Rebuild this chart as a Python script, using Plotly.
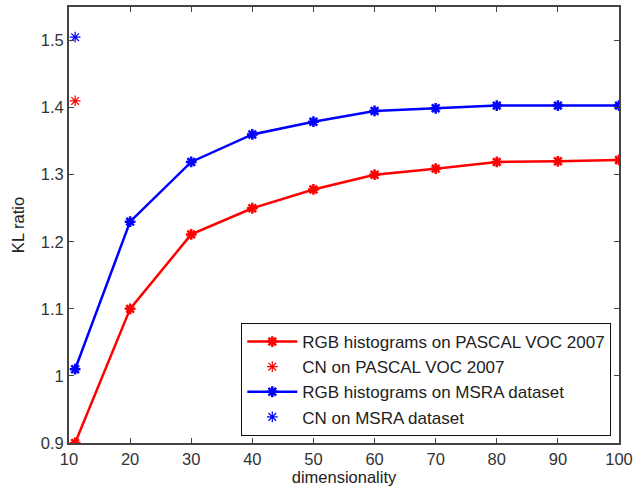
import plotly.graph_objects as go

# dimensionality sampled for the RGB histogram curves
dims = [11, 20, 30, 40, 50, 60, 70, 80, 90, 100]
rgb_pascal = [0.900, 1.100, 1.211, 1.250, 1.278, 1.300, 1.309, 1.319, 1.320, 1.322]
rgb_msra = [1.010, 1.230, 1.319, 1.360, 1.379, 1.395, 1.399, 1.403, 1.403, 1.403]

# colour names (CN) reference points
cn_dim = [11]
cn_pascal = [1.410]
cn_msra = [1.505]

x_ticks = [10, 20, 30, 40, 50, 60, 70, 80, 90, 100]
y_ticks = [0.9, 1.0, 1.1, 1.2, 1.3, 1.4, 1.5]
y_tick_text = ["0.9", "1", "1.1", "1.2", "1.3", "1.4", "1.5"]

RED = "#ff0000"
BLUE = "#0000ff"
FONT = "Liberation Sans, Arial, sans-serif"

fig = go.Figure()
fig.add_trace(go.Scatter(
    x=dims, y=rgb_pascal, mode="lines+markers",
    name="RGB histograms on PASCAL VOC 2007",
    line=dict(color=RED, width=2.5),
    marker=dict(symbol="asterisk-open", size=9, color=RED, line=dict(color=RED, width=2.5)),
))
fig.add_trace(go.Scatter(
    x=cn_dim, y=cn_pascal, mode="markers",
    name="CN on PASCAL VOC 2007",
    marker=dict(symbol="asterisk-open", size=9, color=RED, line=dict(color=RED, width=1.2)),
))
fig.add_trace(go.Scatter(
    x=dims, y=rgb_msra, mode="lines+markers",
    name="RGB histograms on MSRA dataset",
    line=dict(color=BLUE, width=2.5),
    marker=dict(symbol="asterisk-open", size=9, color=BLUE, line=dict(color=BLUE, width=2.5)),
))
fig.add_trace(go.Scatter(
    x=cn_dim, y=cn_msra, mode="markers",
    name="CN on MSRA dataset",
    marker=dict(symbol="asterisk-open", size=9, color=BLUE, line=dict(color=BLUE, width=1.2)),
))

axis_common = dict(
    showgrid=False, zeroline=False,
    showline=True, linecolor="#444444", linewidth=2, mirror="ticks",
    ticks="inside", ticklen=5, tickwidth=1, tickcolor="#444444",
    tickfont=dict(family=FONT, size=16.5, color="#333333"),
    ticklabeloverflow="allow",
)

fig.update_layout(
    width=638, height=490,
    margin=dict(l=69, r=12, t=5, b=47),
    paper_bgcolor="white", plot_bgcolor="white",
    font=dict(family=FONT, size=16, color="#222222"),
    xaxis=dict(range=[10, 100], tickvals=x_ticks,
               title=dict(text="dimensionality", standoff=3, font=dict(size=16.5)),
               **axis_common),
    yaxis=dict(range=[0.9, 1.55], tickvals=y_ticks, ticktext=y_tick_text,
               title=dict(text="KL ratio", standoff=12, font=dict(size=16.5)),
               **axis_common),
    legend=dict(
        x=0.986, y=0.016, xanchor="right", yanchor="bottom",
        bgcolor="white", bordercolor="#111111", borderwidth=1,
        font=dict(size=17, color="#222222"),
        tracegroupgap=0, itemwidth=50,
    ),
    showlegend=True,
)

fig.write_html("out.html")
